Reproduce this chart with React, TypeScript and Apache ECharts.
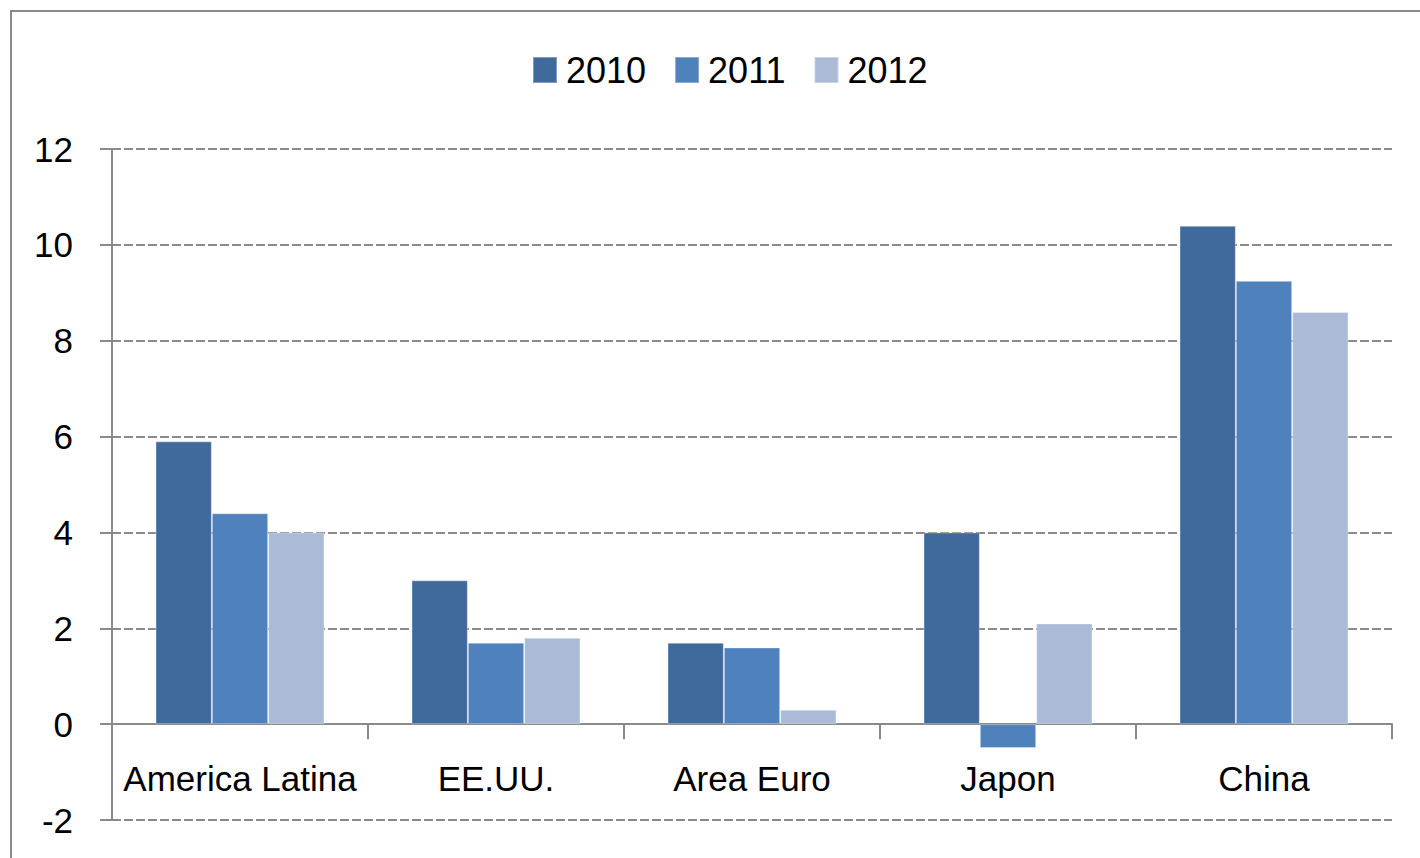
import React, { useEffect, useRef } from "react";
import * as echarts from "echarts";

const categories = ["America Latina", "EE.UU.", "Area Euro", "Japon", "China"];
const seriesNames = ["2010", "2011", "2012"];
const values2010 = [5.9, 3.0, 1.7, 4.0, 10.4];
const values2011 = [4.4, 1.7, 1.6, -0.5, 9.25];
const values2012 = [4.0, 1.8, 0.3, 2.1, 8.6];
const colors = ["#40699C", "#4F81BD", "#AABAD7"];

const FONT = "Liberation Sans";
const GRAY = "#8a8a8a";

export default function App() {
  const ref = useRef<HTMLDivElement>(null);
  useEffect(() => {
    if (!ref.current) return;
    const chart = echarts.init(ref.current, undefined, { renderer: "svg" });
    const data = [values2010, values2011, values2012];
    chart.setOption({
      animation: false,
      backgroundColor: "#ffffff",
      textStyle: { fontFamily: FONT },
      graphic: [
        {
          type: "rect",
          shape: { x: 11, y: 11, width: 1440, height: 900 },
          style: { fill: "none", stroke: GRAY, lineWidth: 2 },
          silent: true,
        },
      ],
      legend: {
        data: seriesNames,
        top: 52,
        left: 532,
        padding: 0,
        itemWidth: 24,
        itemHeight: 26,
        itemGap: 28,
        icon: "rect",
        textStyle: { fontSize: 36, fontFamily: FONT, color: "#000", padding: [0, 0, 0, 4] },
      },
      grid: {
        left: 112,
        right: 28,
        top: 149,
        bottom: 38,
        containLabel: false,
        outerBoundsMode: "none",
      },
      xAxis: {
        type: "category",
        data: categories,
        axisLine: { onZero: true, lineStyle: { color: GRAY, width: 2 } },
        axisTick: { show: true, length: 15, lineStyle: { color: GRAY, width: 2 } },
        axisLabel: { fontSize: 35, fontFamily: FONT, color: "#000", margin: -59, interval: 0 },
        splitLine: { show: false },
      },
      yAxis: {
        type: "value",
        min: -2,
        max: 12,
        interval: 2,
        axisLine: { show: true, lineStyle: { color: GRAY, width: 2 } },
        axisTick: { show: true, length: 12, lineStyle: { color: GRAY, width: 2 } },
        axisLabel: { fontSize: 35, fontFamily: FONT, color: "#000", margin: 39 },
        splitLine: { show: true, lineStyle: { color: GRAY, width: 2, type: [9, 3] } },
      },
      series: seriesNames.map((name, i) => ({
        name,
        type: "bar",
        data: data[i],
        barGap: "0%",
        barCategoryGap: "34%",
        itemStyle: { color: colors[i], borderColor: "rgba(255,255,255,0.35)", borderWidth: 1 },
      })),
    });
    return () => chart.dispose();
  }, []);
  return (
    <div
      ref={ref}
      style={{ position: "fixed", left: 0, top: 0, width: 1420, height: 858 }}
    />
  );
}
